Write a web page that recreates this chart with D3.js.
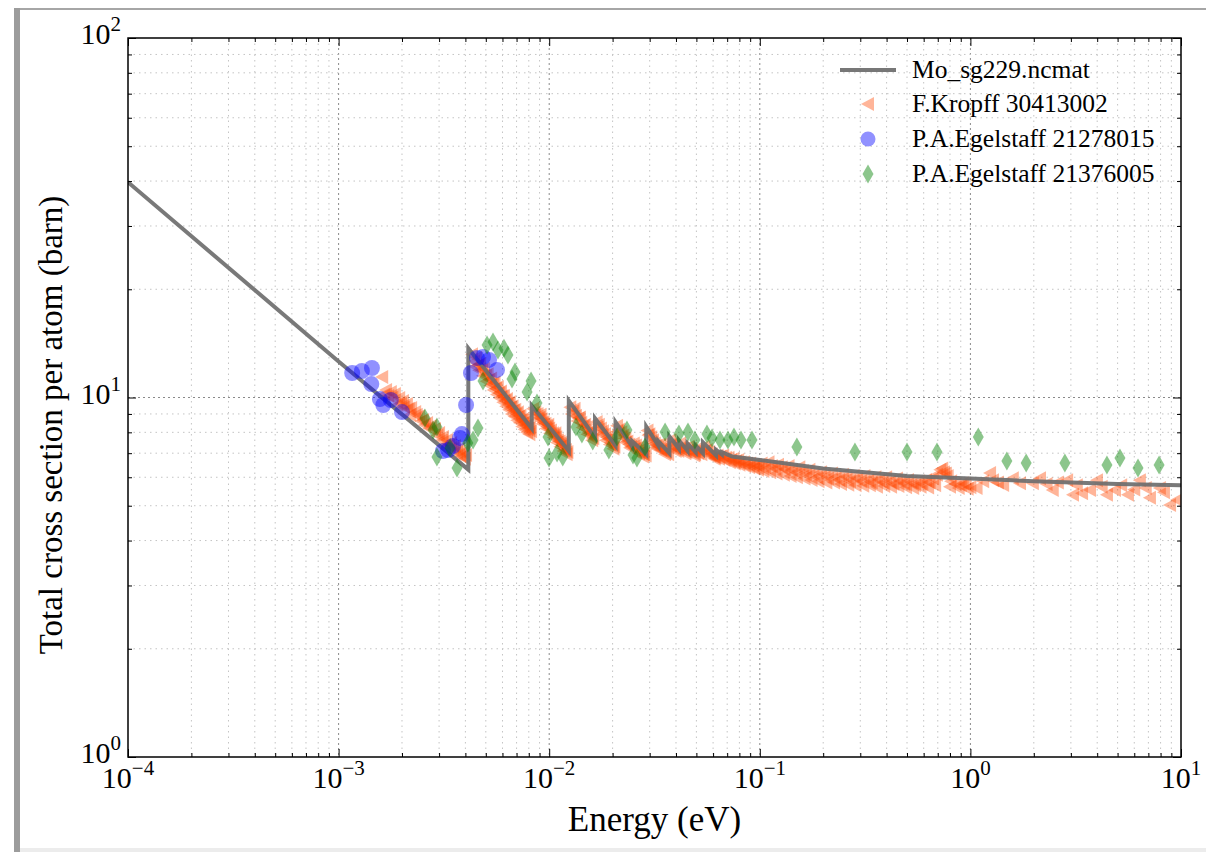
<!DOCTYPE html>
<html><head><meta charset="utf-8">
<script src="https://cdn.jsdelivr.net/npm/d3@7"></script>
<style>
body{margin:0;background:#fff;}
svg{display:block;}
text{font-family:"Liberation Serif","Times New Roman",serif;fill:#000;}
</style>
</head><body>
<svg id="chart" width="1206" height="852"></svg>
<script>
// ---------- DATA ----------
const xTickLabels = [["10","\u22124"],["10","\u22123"],["10","\u22122"],["10","\u22121"],["10","0"],["10","1"]];
const yTickLabels = [["10","0"],["10","1"],["10","2"]];
const seriesNames = ["Mo_sg229.ncmat","F.Kropff 30413002","P.A.Egelstaff 21278015","P.A.Egelstaff 21376005"];

// theoretical curve (energy eV, cross section barn)
const ncmatCurve = [
 [1e-4,39.7],[1e-3,12.6],[4.13e-3,6.3],[4.13e-3,13.7],[8.26e-3,8.2],[8.26e-3,9.5],
 [1.239e-2,7.1],[1.239e-2,9.8],[1.65e-2,7.75],[1.65e-2,8.75],[2.065e-2,7.35],[2.065e-2,8.55],
 [2.48e-2,7.3],[2.48e-2,7.55],[2.89e-2,6.95],[2.89e-2,8.3],[3.3e-2,7.35],[3.3e-2,7.55],
 [3.72e-2,7.0],[3.72e-2,7.8],[4.13e-2,7.2],[4.13e-2,7.6],[4.54e-2,7.1],[4.54e-2,7.45],
 [4.96e-2,7.05],[4.96e-2,7.35],[5.37e-2,7.0],[5.37e-2,7.5],[6.2e-2,6.9],[6.2e-2,7.15],
 [6.6e-2,6.95],[6.6e-2,7.05],[7.4e-2,6.85],[0.1,6.7],[0.2,6.35],[0.5,6.05],[1,5.95],
 [2,5.85],[5,5.75],[10,5.7]
];

// F.Kropff 30413002
const kropff = [
 [1.61e-3,11.4],[1.68e-3,10.49],[1.77e-3,10.36],[1.85e-3,10.22],[1.94e-3,9.97],[2.02e-3,9.78],
 [2.11e-3,9.59],[2.21e-3,9.35],[2.31e-3,9.12],[2.41e-3,8.87],[2.52e-3,8.66],[2.63e-3,8.49],
 [2.75e-3,8.33],[2.87e-3,8.17],[3.0e-3,7.96],[3.13e-3,7.77],[3.27e-3,7.62],[3.42e-3,7.47],
 [3.57e-3,7.33],[3.73e-3,7.19],[3.9e-3,7.05],[4.03e-3,6.92],[1.9e-3,9.53],[2.18e-3,8.94],
 [2.57e-3,8.38],[3.2e-3,7.38],[3.77e-3,6.92],[1.72e-3,10.1],[2.05e-3,9.4],
 [1.65e-3,10.2],[1.8e-3,10.0],[1.98e-3,9.6],[2.15e-3,9.3],[2.35e-3,8.95],[2.47e-3,8.6],[2.7e-3,8.2],
 [2.95e-3,7.85],[3.1e-3,7.6],[3.35e-3,7.35],[3.5e-3,7.2],[3.65e-3,7.05],[3.85e-3,6.85],[3.98e-3,6.75],
 [4.3e-3,13.2],[4.4e-3,12.6],[4.5e-3,12.9],[4.6e-3,12.3],[4.7e-3,12.4],[4.8e-3,11.9],[4.9e-3,12.0],
 [5.0e-3,11.5],[5.1e-3,11.6],[5.2e-3,11.2],[5.3e-3,11.3],[5.4e-3,10.9],[5.5e-3,11.0],[5.6e-3,10.6],
 [5.7e-3,10.7],[5.8e-3,10.3],[5.9e-3,10.4],[6.0e-3,10.1],[6.1e-3,10.1],[6.2e-3,9.8],[6.3e-3,9.9],
 [6.4e-3,9.6],[6.5e-3,9.7],[6.6e-3,9.4],[6.7e-3,9.45],[6.8e-3,9.2],[6.9e-3,9.25],[7.0e-3,9.0],
 [7.1e-3,9.1],[7.2e-3,8.85],[7.3e-3,8.9],[7.4e-3,8.65],[7.5e-3,8.7],[7.6e-3,8.5],[7.7e-3,8.55],
 [7.8e-3,8.35],[7.9e-3,8.4],[8.0e-3,8.2],[8.1e-3,8.25],[8.2e-3,8.05],
 [4.45e-3,12.2],[4.65e-3,11.9],[4.85e-3,11.5],[5.05e-3,11.1],[5.25e-3,10.8],[5.45e-3,10.5],
 [5.65e-3,10.2],[5.85e-3,9.95],[6.05e-3,9.7],[6.25e-3,9.45],[6.45e-3,9.25],[6.65e-3,9.0],
 [6.85e-3,8.85],[7.05e-3,8.65],[7.25e-3,8.5],[7.45e-3,8.3],[7.65e-3,8.15],[7.85e-3,8.0],[8.05e-3,7.9],
 [8.4e-3,9.3],[8.6e-3,9.1],[8.8e-3,9.0],[9.0e-3,8.8],[9.2e-3,8.7],[9.4e-3,8.55],[9.6e-3,8.45],
 [9.8e-3,8.3],[1.0e-2,8.2],[1.02e-2,8.1],[1.04e-2,7.95],[1.06e-2,7.85],[1.08e-2,7.75],[1.1e-2,7.6],
 [1.12e-2,7.55],[1.14e-2,7.4],[1.16e-2,7.35],[1.18e-2,7.2],[1.2e-2,7.15],[1.22e-2,7.05],
 [9.1e-3,8.95],[9.9e-3,8.4],[1.07e-2,7.95],[1.15e-2,7.5],
 [8.5e-3,8.95],[8.9e-3,8.7],[9.3e-3,8.45],[9.7e-3,8.2],[1.01e-2,7.95],[1.05e-2,7.75],[1.09e-2,7.5],
 [1.13e-2,7.3],[1.17e-2,7.1],[1.21e-2,6.95],
 [1.26e-2,9.4],[1.3e-2,9.15],[1.34e-2,8.9],[1.38e-2,8.75],[1.42e-2,8.5],[1.46e-2,8.35],[1.5e-2,8.15],
 [1.54e-2,8.0],[1.58e-2,7.85],[1.62e-2,7.7],[1.32e-2,9.3],[1.4e-2,8.8],[1.48e-2,8.4],[1.56e-2,7.95],
 [1.28e-2,9.0],[1.36e-2,8.6],[1.44e-2,8.25],[1.52e-2,7.9],[1.6e-2,7.6],
 [1.68e-2,8.55],[1.72e-2,8.4],[1.76e-2,8.2],[1.8e-2,8.05],[1.84e-2,7.9],[1.88e-2,7.75],[1.92e-2,7.65],
 [1.96e-2,7.5],[2.0e-2,7.4],[2.04e-2,7.3],[1.7e-2,8.25],[1.78e-2,7.9],[1.86e-2,7.6],[1.94e-2,7.4],[2.02e-2,7.2],
 [2.1e-2,8.35],[2.15e-2,8.15],[2.2e-2,8.0],[2.25e-2,7.85],[2.3e-2,7.7],[2.35e-2,7.55],[2.4e-2,7.4],[2.45e-2,7.3],
 [2.12e-2,8.05],[2.22e-2,7.75],[2.32e-2,7.5],[2.42e-2,7.25],
 [2.52e-2,7.45],[2.58e-2,7.35],[2.64e-2,7.25],[2.7e-2,7.15],[2.76e-2,7.05],[2.82e-2,6.95],[2.87e-2,6.9],
 [2.55e-2,7.2],[2.67e-2,7.0],[2.79e-2,6.85],
 [2.93e-2,8.1],[2.99e-2,7.9],[3.05e-2,7.75],[3.11e-2,7.6],[3.17e-2,7.45],[3.23e-2,7.35],[3.28e-2,7.25],
 [2.96e-2,7.85],[3.08e-2,7.5],[3.2e-2,7.25],
 [3.35e-2,7.4],[3.43e-2,7.25],[3.51e-2,7.15],[3.59e-2,7.05],[3.67e-2,6.95],[3.4e-2,7.15],[3.55e-2,6.95],
 [3.76e-2,7.6],[3.85e-2,7.45],[3.94e-2,7.3],[4.03e-2,7.2],[4.1e-2,7.1],[3.8e-2,7.35],[3.98e-2,7.1],
 [4.18e-2,7.45],[4.28e-2,7.3],[4.38e-2,7.2],[4.48e-2,7.05],[4.23e-2,7.2],[4.43e-2,7.0],
 [4.6e-2,7.3],[4.72e-2,7.2],[4.84e-2,7.05],[4.93e-2,6.95],[4.66e-2,7.1],[4.89e-2,6.9],
 [5.02e-2,7.2],[5.15e-2,7.1],[5.28e-2,6.95],[5.1e-2,7.0],
 [5.45e-2,7.3],[5.6e-2,7.15],[5.75e-2,7.05],[5.9e-2,6.95],[6.05e-2,6.85],[6.15e-2,6.8],
 [5.52e-2,7.1],[5.82e-2,6.9],[6.1e-2,6.75],
 [6.3e-2,6.9],[6.5e-2,6.85],[6.7e-2,6.9],[6.9e-2,6.8],[7.1e-2,6.8],[7.3e-2,6.7],[7.5e-2,6.75],
 [7.7e-2,6.65],[7.9e-2,6.7],[8.1e-2,6.6],[8.4e-2,6.6],[8.7e-2,6.55],[9.0e-2,6.55],[9.3e-2,6.5],
 [9.6e-2,6.5],[9.9e-2,6.45],
 [6.4e-2,6.75],[6.8e-2,6.7],[7.2e-2,6.6],[7.6e-2,6.55],[8.0e-2,6.5],[8.5e-2,6.45],[8.9e-2,6.4],
 [9.4e-2,6.35],[9.8e-2,6.3],
 [0.102,6.55],[0.106,6.4],[0.11,6.6],[0.114,6.45],[0.118,6.35],[0.122,6.5],[0.127,6.4],[0.132,6.3],
 [0.137,6.45],[0.142,6.3],[0.148,6.2],[0.154,6.4],[0.16,6.25],[0.166,6.1],[0.172,6.3],[0.18,6.15],
 [0.187,6.0],[0.195,6.2],[0.203,6.1],[0.211,5.95],[0.22,6.15],[0.229,6.0],[0.238,5.9],[0.248,6.1],
 [0.258,6.0],[0.268,5.85],[0.279,6.05],[0.29,5.95],[0.302,5.85],[0.314,6.05],[0.327,5.9],[0.34,5.8],
 [0.354,6.0],[0.368,5.9],[0.383,5.8],[0.398,6.0],[0.414,5.85],[0.431,5.75],[0.448,5.95],[0.466,5.85],
 [0.485,5.75],[0.505,5.9],[0.525,5.8],[0.546,5.7],[0.568,5.85],[0.591,5.75],[0.615,5.9],[0.64,5.8],
 [0.666,5.95],[0.693,6.1],[0.72,6.3],[0.75,6.2],[0.78,6.05],[0.81,5.85],[0.85,5.75],[0.9,5.7],[0.95,5.75],
 [0.104,6.25],[0.112,6.2],[0.12,6.15],[0.13,6.1],[0.14,6.05],[0.15,6.0],[0.163,5.95],[0.176,5.9],
 [0.19,5.85],[0.207,5.8],[0.225,5.8],[0.243,5.75],[0.263,5.72],[0.285,5.7],[0.31,5.68],[0.333,5.7],
 [0.36,5.65],[0.39,5.67],[0.42,5.65],[0.455,5.67],[0.495,5.63],[0.535,5.6],[0.58,5.65],[0.63,5.62],
 [0.68,5.7],[0.735,6.35],[0.765,6.15],[0.8,5.65],[0.88,5.6],[0.97,5.57],
 [0.92,5.77],[1.0,5.63],[1.07,5.6],[1.24,6.17],[1.28,5.89],[1.43,5.71],[1.59,5.96],[1.72,5.77],
 [1.98,5.77],[2.14,5.96],[2.46,5.53],[2.88,5.89],[3.07,5.36],[3.39,5.42],[3.7,5.53],[3.99,5.89],
 [4.45,5.36],[4.86,5.53],[5.6,5.36],[6.38,5.89],[7.12,5.26],[7.94,5.6],[8.87,5.02],[9.57,5.19],
 [1.15,5.85],[1.35,5.8],[2.3,5.75],[2.6,5.8],[3.2,5.7],[4.2,5.65],[5.2,5.7],[6.0,5.55],[6.8,5.6],[8.3,5.45]
];

// P.A.Egelstaff 21278015
const egelstaff1 = [
 [1.16e-3,11.7],[1.29e-3,11.85],[1.44e-3,12.08],[1.43e-3,10.9],[1.57e-3,9.9],[1.63e-3,9.53],
 [1.77e-3,9.84],[2.0e-3,9.11],[3.13e-3,7.1],[3.31e-3,7.14],[3.49e-3,7.33],[3.77e-3,7.72],
 [3.85e-3,7.91],[4.03e-3,9.53],[4.25e-3,11.7],[4.54e-3,12.88],[4.85e-3,12.96],[5.18e-3,12.72],[5.65e-3,11.93]
];

// P.A.Egelstaff 21376005
const egelstaff2 = [
 [2.57e-3,8.77],[2.81e-3,8.12],[2.93e-3,8.28],[2.93e-3,6.83],[3.38e-3,7.24],[3.65e-3,6.37],
 [4.11e-3,7.47],[4.35e-3,7.62],[4.59e-3,8.23],[4.85e-3,11.12],[5.07e-3,14.0],[5.41e-3,14.26],
 [5.71e-3,13.55],[6.1e-3,13.7],[6.37e-3,13.13],[6.66e-3,11.26],[6.88e-3,11.77],[7.85e-3,10.36],
 [8.2e-3,11.12],[8.75e-3,9.65],[9.87e-3,7.77],[9.98e-3,6.79],[1.09e-2,7.01],[1.16e-2,6.83],
 [1.34e-2,8.28],[1.43e-2,7.92],[1.61e-2,7.57],[1.92e-2,7.14],[2.1e-2,7.77],[2.34e-2,8.12],
 [2.5e-2,6.92],[2.61e-2,6.79],[2.85e-2,7.28],[3.55e-2,8.02],[4.13e-2,7.92],[4.56e-2,8.02],
 [4.92e-2,7.62],[5.61e-2,7.92],[5.93e-2,7.72],[6.47e-2,7.62],[7.06e-2,7.62],[7.54e-2,7.77],
 [8.14e-2,7.62],[9.18e-2,7.62],[0.15,7.28],[0.283,7.05],[0.5,7.05],[0.694,7.05],[1.09,7.77],
 [1.49,6.66],[1.84,6.57],[2.81,6.57],[4.45,6.49],[5.13,6.79],[6.25,6.37],[7.87,6.49]
];

// ---------- CHART ----------
const svg = d3.select("#chart");
const L = 128, R = 1181, T = 38, B = 757;

// screenshot frame
svg.append("rect").attr("x",0).attr("y",0).attr("width",1206).attr("height",852).attr("fill","#fff");
svg.append("rect").attr("x",14).attr("y",8).attr("width",1192).attr("height",2).attr("fill","#a6a6a6");
svg.append("rect").attr("x",14).attr("y",8).attr("width",6).attr("height",844).attr("fill","#9c9c9c");
svg.append("rect").attr("x",20).attr("y",848).attr("width",1186).attr("height",4).attr("fill","#ececec");

const x = d3.scaleLog().domain([1e-4, 10]).range([L, R]);
const y = d3.scaleLog().domain([1, 100]).range([B, T]);

const isMajor = v => Math.abs(Math.log10(v) - Math.round(Math.log10(v))) < 1e-9;
const xt = x.ticks(), yt = y.ticks();

// grid
const grid = svg.append("g");
grid.selectAll(".gx").data(xt.filter(v => v > 1e-4*1.0001 && v < 10*0.9999)).enter().append("line")
  .attr("x1", d => x(d)).attr("x2", d => x(d)).attr("y1", T).attr("y2", B)
  .attr("stroke", d => isMajor(d) ? "#8a8a8a" : "#c4c4c4")
  .attr("stroke-width", 1)
  .attr("stroke-dasharray", d => isMajor(d) ? "2,3" : "1.5,4");
grid.selectAll(".gy").data(yt.filter(v => v > 1.0001 && v < 99.99)).enter().append("line")
  .attr("x1", L).attr("x2", R).attr("y1", d => y(d)).attr("y2", d => y(d))
  .attr("stroke", d => isMajor(d) ? "#8a8a8a" : "#c4c4c4")
  .attr("stroke-width", 1)
  .attr("stroke-dasharray", d => isMajor(d) ? "2,3" : "1.5,4");

svg.append("clipPath").attr("id","clip").append("rect")
  .attr("x",L).attr("y",T).attr("width",R-L).attr("height",B-T);
const plot = svg.append("g").attr("clip-path","url(#clip)");

const triPath = "M-7,0L6,-7L6,7Z";
const diaPath = "M0,-9.5L5.5,0L0,9.5L-5.5,0Z";

plot.append("g").selectAll("path").data(kropff).enter().append("path")
  .attr("d", triPath).attr("transform", d => `translate(${x(d[0])},${y(d[1])})`)
  .attr("fill","#ff4500").attr("fill-opacity",0.4);

// theory line (drawn over the dense Kropff band)
const line = d3.line().x(d => x(d[0])).y(d => y(d[1]));
plot.append("path").datum(ncmatCurve).attr("d", line)
  .attr("fill","none").attr("stroke","#6e6e6e").attr("stroke-opacity",0.92)
  .attr("stroke-width",4).attr("stroke-linejoin","miter");

plot.append("g").selectAll("circle").data(egelstaff1).enter().append("circle")
  .attr("cx", d => x(d[0])).attr("cy", d => y(d[1])).attr("r",8)
  .attr("fill","#0000ff").attr("fill-opacity",0.43);
plot.append("g").selectAll("path").data(egelstaff2).enter().append("path")
  .attr("d", diaPath).attr("transform", d => `translate(${x(d[0])},${y(d[1])})`)
  .attr("fill","#008000").attr("fill-opacity",0.45);

// axes (inward ticks on all sides)
function addAxis(axisFn, scale, vals, size, tr) {
  svg.append("g").attr("transform", tr)
    .call(axisFn(scale).tickValues(vals).tickSize(size).tickFormat(""))
    .call(g => g.select(".domain").remove())
    .call(g => g.selectAll("line").attr("stroke","#000").attr("stroke-width",1));
}
const xMaj = xt.filter(isMajor), xMin = xt.filter(v => !isMajor(v));
const yMaj = yt.filter(isMajor), yMin = yt.filter(v => !isMajor(v));
addAxis(d3.axisBottom, x, xMaj, -8, `translate(0,${B})`);
addAxis(d3.axisBottom, x, xMin, -4, `translate(0,${B})`);
addAxis(d3.axisTop, x, xMaj, -8, `translate(0,${T})`);
addAxis(d3.axisTop, x, xMin, -4, `translate(0,${T})`);
addAxis(d3.axisLeft, y, yMaj, -8, `translate(${L},0)`);
addAxis(d3.axisLeft, y, yMin, -4, `translate(${L},0)`);
addAxis(d3.axisRight, y, yMaj, -8, `translate(${R},0)`);
addAxis(d3.axisRight, y, yMin, -4, `translate(${R},0)`);

svg.append("rect").attr("x",L).attr("y",T).attr("width",R-L).attr("height",B-T)
  .attr("fill","none").attr("stroke","#000").attr("stroke-width",1.5);

// tick labels
const xl = svg.append("g");
xMaj.forEach((v,i) => {
  const t = xl.append("text").attr("x", x(v)).attr("y", B + 31).attr("text-anchor","middle")
    .style("font-size","30px");
  t.append("tspan").text(xTickLabels[i][0]);
  t.append("tspan").attr("dy",-13).style("font-size","21px").text(xTickLabels[i][1]);
});
yMaj.forEach((v,i) => {
  const t = svg.append("text").attr("x", L - 7).attr("y", y(v) + 6).attr("text-anchor","end")
    .style("font-size","30px");
  t.append("tspan").text(yTickLabels[i][0]);
  t.append("tspan").attr("dy",-13).style("font-size","21px").text(yTickLabels[i][1]);
});

// axis titles
svg.append("text").attr("x",(L+R)/2).attr("y",831).attr("text-anchor","middle")
  .style("font-size","35px").text("Energy (eV)");
svg.append("text").attr("transform","translate(62,425) rotate(-90)").attr("text-anchor","middle")
  .style("font-size","33px").text("Total cross section per atom (barn)");

// legend
const lg = svg.append("g");
const rowsY = [70, 104, 139, 174];
lg.append("line").attr("x1",840).attr("x2",896).attr("y1",rowsY[0]).attr("y2",rowsY[0])
  .attr("stroke","#777").attr("stroke-width",4);
lg.append("path").attr("d",triPath).attr("transform",`translate(868,${rowsY[1]})`)
  .attr("fill","#ff4500").attr("fill-opacity",0.4);
lg.append("circle").attr("cx",868).attr("cy",rowsY[2]).attr("r",7.5)
  .attr("fill","#0000ff").attr("fill-opacity",0.43);
lg.append("path").attr("d",diaPath).attr("transform",`translate(868,${rowsY[3]})`)
  .attr("fill","#008000").attr("fill-opacity",0.45);
seriesNames.forEach((n,i) => {
  lg.append("text").attr("x",912).attr("y",rowsY[i]+8).style("font-size","25.5px").text(n);
});
</script>
</body></html>
